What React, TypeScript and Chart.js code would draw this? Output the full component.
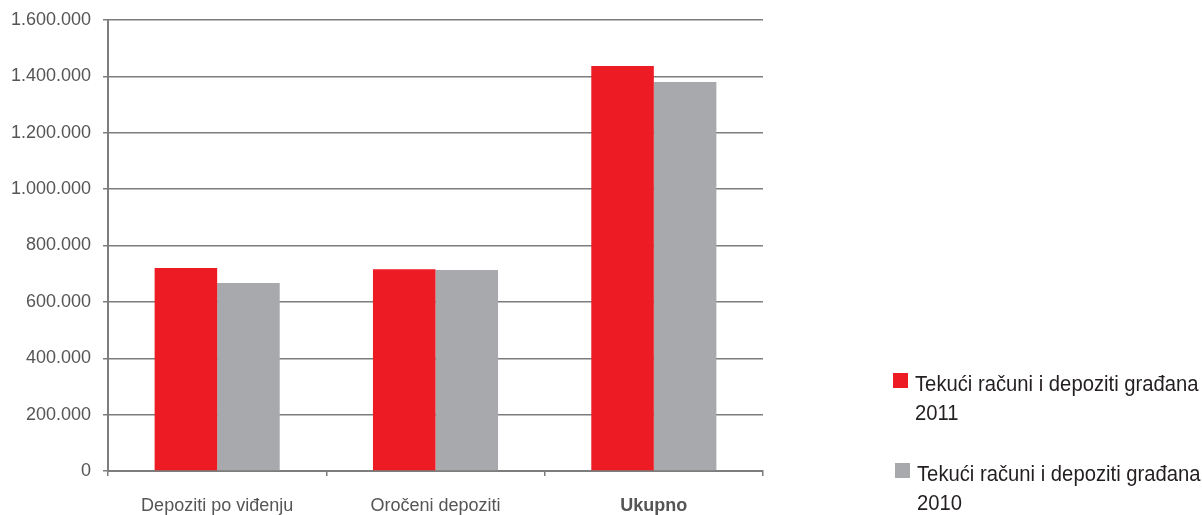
import React, { useEffect, useRef } from "react";
import { Chart, registerables } from "chart.js";

Chart.register(...registerables);

const categories = ["Depoziti po viđenju", "Oročeni depoziti", "Ukupno"];
const series2011 = [720000, 716000, 1437000];
const series2010 = [667000, 713000, 1380000];
const seriesNames = ["Tekući računi i depoziti građana", "Tekući računi i depoziti građana"];
const seriesYears = ["2011", "2010"];
const yTicks = [0, 200000, 400000, 600000, 800000, 1000000, 1200000, 1400000, 1600000];

const RED = "#ED1C24";
const GREY = "#A7A9AC";
const FONT = "'Liberation Sans', Arial, sans-serif";

const fmt = (v: number) => String(Math.round(v)).replace(/\B(?=(\d{3})+(?!\d))/g, ".");

export default function App() {
  const ref = useRef<HTMLCanvasElement | null>(null);

  useEffect(() => {
    document.body.style.margin = "0";
    const canvas = ref.current;
    if (!canvas) return;
    const chart = new Chart(canvas, {
      type: "bar",
      data: {
        labels: categories,
        datasets: [
          { label: seriesNames[0] + " " + seriesYears[0], data: series2011, backgroundColor: RED, categoryPercentage: 0.573, barPercentage: 1 },
          { label: seriesNames[1] + " " + seriesYears[1], data: series2010, backgroundColor: GREY, categoryPercentage: 0.573, barPercentage: 1 },
        ],
      },
      options: {
        animation: false,
        responsive: false,
        maintainAspectRatio: false,
        layout: { padding: { top: 20, right: 439, left: 0, bottom: 0 } },
        plugins: { legend: { display: false }, tooltip: { enabled: false } },
        scales: {
          x: {
            grid: { display: true, drawOnChartArea: false, drawTicks: true, tickLength: 5, color: "#7d7d7d", lineWidth: 1.5, offset: true },
            border: { display: true, color: "#7d7d7d", width: 2 },
            ticks: {
              color: "#555555",
              padding: 19,
              font: (ctx: any) => ({ family: FONT, size: 18, weight: ctx.index === 2 ? "bold" : "normal" }),
            },
            afterFit: (scale: any) => { scale.height = 44; scale.paddingLeft = 0; scale.paddingRight = 0; },
          },
          y: {
            min: 0,
            max: 1600000,
            afterBuildTicks: (scale: any) => { scale.ticks = yTicks.map((v) => ({ value: v })); },
            grid: { color: "#7d7d7d", lineWidth: 1.5, drawTicks: true, tickLength: 5 },
            border: { display: true, color: "#7d7d7d", width: 2 },
            ticks: {
              color: "#555555",
              padding: 12,
              font: { family: FONT, size: 18 },
              callback: (v: any) => fmt(Number(v)),
            },
            afterFit: (scale: any) => { scale.width = 108; scale.paddingTop = 0; scale.paddingBottom = 0; },
          },
        },
      },
    });
    return () => chart.destroy();
  }, []);

  const legendItem = (color: string, name: string, year: string, top: number, left: number) => (
    <div style={{ position: "absolute", left, top, display: "flex", alignItems: "flex-start" }}>
      <div style={{ width: 15, height: 15, background: color, marginTop: 4, marginRight: 7 }} />
      <div
        style={{
          fontFamily: FONT,
          fontSize: 22,
          lineHeight: "29px",
          color: "#231F20",
          whiteSpace: "nowrap",
          transform: "scaleX(0.92)",
          transformOrigin: "left top",
        }}
      >
        {name}
        <br />
        {year}
      </div>
    </div>
  );

  return (
    <div style={{ position: "relative", width: 1202, height: 515, background: "#fff", overflow: "hidden" }}>
      <canvas ref={ref} width={1202} height={515} style={{ position: "absolute", left: 0, top: 0 }} />
      {legendItem(RED, seriesNames[0], seriesYears[0], 369, 893)}
      {legendItem(GREY, seriesNames[1], seriesYears[1], 459, 895)}
    </div>
  );
}
